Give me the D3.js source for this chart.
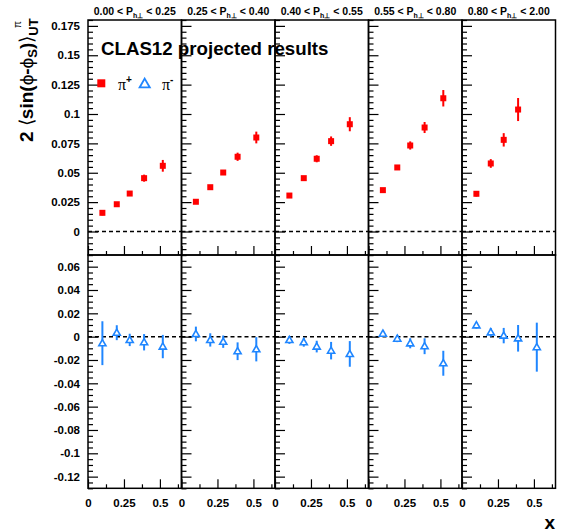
<!DOCTYPE html>
<html><head><meta charset="utf-8">
<script src="https://cdn.jsdelivr.net/npm/d3@7"></script>
<style>
body{margin:0;background:#fff;}
svg text{font-family:"Liberation Sans",Arial,Helvetica,sans-serif;font-weight:bold;fill:#000;}
</style></head><body><svg id="c" width="566" height="532"></svg>
<script>
// ---------- data ----------
const binLo = ["0.00","0.25","0.40","0.55","0.80"];
const binHi = ["0.25","0.40","0.55","0.80","2.00"];
const xBins = [0.10, 0.20, 0.29, 0.39, 0.52];

const piPlusVal = [
  [0.0159, 0.0232, 0.0323, 0.0454, 0.0559],
  [0.0253, 0.0377, 0.0502, 0.0636, 0.0800],
  [0.0306, 0.0454, 0.0619, 0.0769, 0.0913],
  [0.0352, 0.0545, 0.0732, 0.0885, 0.1134],
  [0.0321, 0.0579, 0.0780, 0.1038]
];
const piPlusErr = [
  [0.0022, 0.0015, 0.0018, 0.0030, 0.0050],
  [0.0015, 0.0017, 0.0020, 0.0035, 0.0050],
  [0.0015, 0.0018, 0.0030, 0.0040, 0.0060],
  [0.0012, 0.0018, 0.0035, 0.0047, 0.0070],
  [0.0023, 0.0037, 0.0057, 0.0098]
];
const piMinusVal = [
  [-0.0056, 0.0034, -0.0028, -0.0048, -0.0085],
  [0.0023, -0.0028, -0.0043, -0.0125, -0.0108],
  [-0.0028, -0.0048, -0.0085, -0.0120, -0.0148],
  [0.0026, -0.0017, -0.0057, -0.0082, -0.0228],
  [0.0097, 0.0037, 0.0009, -0.0014, -0.0090]
];
const piMinusErr = [
  [0.0188, 0.0064, 0.0053, 0.0070, 0.0100],
  [0.0063, 0.0057, 0.0053, 0.0076, 0.0104],
  [0.0034, 0.0038, 0.0050, 0.0075, 0.0110],
  [0.0025, 0.0030, 0.0043, 0.0068, 0.0107],
  [0.0028, 0.0037, 0.0066, 0.0114, 0.0210]
];

const xTicksMajor = [0, 0.25, 0.5];
const xTickLabels = ["0", "0.25", "0.5"];
const xTicksMinor = [0.125, 0.375, 0.625];
const yTopMajor = [0, 0.025, 0.05, 0.075, 0.1, 0.125, 0.15, 0.175];
const yTopLabels = ["0", "0.025", "0.05", "0.075", "0.1", "0.125", "0.15", "0.175"];
const yBotMajor = [-0.12, -0.1, -0.08, -0.06, -0.04, -0.02, 0, 0.02, 0.04, 0.06];
const yBotLabels = ["-0.12", "-0.1", "-0.08", "-0.06", "-0.04", "-0.02", "0", "0.02", "0.04", "0.06"];

// ---------- layout ----------
const RED = "#ff0000", BLUE = "#1f86ff";
const svg = d3.select("#c");
svg.append("rect").attr("width", 566).attr("height", 532).attr("fill", "#fff");

const panel = d3.scaleBand().domain(d3.range(5)).range([88, 555.5]).paddingInner(0).paddingOuter(0);
const pw = panel.bandwidth();
const x = d3.scaleLinear().domain([0, 0.65]).range([0, pw]);
const yTop = d3.scaleLinear().domain([-0.02, 0.18]).range([255, 20]);
const yBot = d3.scaleLinear().domain([-0.13, 0.07]).range([488.3, 255]);

const yTopMinor = d3.range(-0.02, 0.1801, 0.005).filter(v => !yTopMajor.some(m => Math.abs(m - v) < 1e-6));
const yBotMinor = d3.range(-0.13, 0.0701, 0.005).filter(v => !yBotMajor.some(m => Math.abs(m - v) < 1e-6));

function cleanAxis(g) { g.select(".domain").remove(); g.selectAll(".tick line").attr("stroke", "#000").attr("stroke-width", 1.2); }

function drawPanel(i, y, major, minor, yLabels, vals, errs, kind) {
  const g = svg.append("g").attr("transform", `translate(${panel(i)},0)`);
  const [ylo, yhi] = y.range();
  // zero dashed line
  g.append("line").attr("x1", 0).attr("x2", pw).attr("y1", y(0)).attr("y2", y(0))
    .attr("stroke", "#000").attr("stroke-width", 1.5).attr("stroke-dasharray", "4,3");
  // y ticks
  g.append("g").call(d3.axisRight(y).tickValues(major).tickSize(10).tickFormat("")).call(cleanAxis);
  g.append("g").call(d3.axisRight(y).tickValues(minor).tickSize(5).tickFormat("")).call(cleanAxis);
  // x ticks
  g.append("g").attr("transform", `translate(0,${ylo})`).call(d3.axisTop(x).tickValues(xTicksMajor).tickSize(9).tickFormat("")).call(cleanAxis);
  g.append("g").attr("transform", `translate(0,${ylo})`).call(d3.axisTop(x).tickValues(xTicksMinor).tickSize(4).tickFormat("")).call(cleanAxis);
  // frame
  g.append("rect").attr("x", 0).attr("y", yhi).attr("width", pw).attr("height", ylo - yhi)
    .attr("fill", "none").attr("stroke", "#000").attr("stroke-width", 1.5);
  if (i === 0) {
    const ax = svg.append("g").attr("transform", `translate(88,0)`)
      .call(d3.axisLeft(y).tickValues(major).tickSize(0).tickPadding(8).tickFormat((d, k) => yLabels[k]));
    ax.select(".domain").remove();
    ax.selectAll("text").style("font-size", "11.5px").style("font-family", '"Liberation Sans",Arial,sans-serif').style("font-weight", "bold").attr("fill", "#000");
  }
  // data
  const pts = vals.map((v, k) => ({ x: xBins[k], v, e: errs[k] }));
  const color = kind === "plus" ? RED : BLUE;
  g.selectAll(null).data(pts).enter().append("line")
    .attr("x1", d => x(d.x)).attr("x2", d => x(d.x))
    .attr("y1", d => y(d.v - d.e)).attr("y2", d => y(d.v + d.e))
    .attr("stroke", color).attr("stroke-width", 2);
  if (kind === "plus") {
    g.selectAll(null).data(pts).enter().append("rect")
      .attr("x", d => x(d.x) - 3).attr("y", d => y(d.v) - 3).attr("width", 6).attr("height", 6).attr("fill", RED);
  } else {
    const tri = d3.symbol().type(d3.symbolTriangle).size(22);
    g.selectAll(null).data(pts).enter().append("path")
      .attr("d", tri).attr("transform", d => `translate(${x(d.x)},${y(d.v) + 0.5})`)
      .attr("fill", "#fff").attr("stroke", BLUE).attr("stroke-width", 1.6);
  }
}

for (let i = 0; i < 5; i++) {
  drawPanel(i, yTop, yTopMajor, yTopMinor, yTopLabels, piPlusVal[i], piPlusErr[i], "plus");
  drawPanel(i, yBot, yBotMajor, yBotMinor, yBotLabels, piMinusVal[i], piMinusErr[i], "minus");
  // x tick labels
  const ax = svg.append("g").attr("transform", `translate(${panel(i)},488.3)`)
    .call(d3.axisBottom(x).tickValues(xTicksMajor).tickSize(0).tickPadding(11).tickFormat((d, k) => xTickLabels[k]));
  ax.select(".domain").remove();
  ax.selectAll("text").style("font-size", "11.5px").style("font-family", '"Liberation Sans",Arial,sans-serif').style("font-weight", "bold").attr("fill", "#000");
  // header
  const h = svg.append("text").attr("x", panel(i) + pw / 2).attr("y", 15).attr("text-anchor", "middle").style("font-size", "10.5px");
  h.append("tspan").text(`${binLo[i]} < P`);
  h.append("tspan").attr("dy", 3).style("font-size", "7px").text("h⊥");
  h.append("tspan").attr("dy", -3).text(` < ${binHi[i]}`);
}

// title text
svg.append("text").attr("x", 101).attr("y", 55).style("font-size", "18.7px").text("CLAS12 projected results");

// legend
svg.append("rect").attr("x", 97.3).attr("y", 79.3).attr("width", 8).attr("height", 8).attr("fill", RED);
const l1 = svg.append("text").attr("x", 118).attr("y", 90).style("font-family", '"Liberation Serif","Times New Roman",serif').style("font-weight", "normal").style("font-size", "16px");
l1.append("tspan").text("π");
l1.append("tspan").attr("dy", -7).style("font-size", "10px").style("font-weight", "bold").style("font-family", '"Liberation Sans",Arial,sans-serif').text("+");
svg.append("path").attr("d", d3.symbol().type(d3.symbolTriangle).size(45)).attr("transform", "translate(144.7,84.5)")
  .attr("fill", "#fff").attr("stroke", BLUE).attr("stroke-width", 1.8);
const l2 = svg.append("text").attr("x", 162).attr("y", 90).style("font-family", '"Liberation Serif","Times New Roman",serif').style("font-weight", "normal").style("font-size", "16px");
l2.append("tspan").text("π");
l2.append("tspan").attr("dy", -7).style("font-size", "10px").style("font-weight", "bold").style("font-family", '"Liberation Sans",Arial,sans-serif').text("-");

// y-axis title
const yt = svg.append("text").attr("transform", "translate(32.5,142) rotate(-90)").style("font-size", "19px");
yt.append("tspan").text("2 ");
yt.append("tspan").style("font-weight", "normal").text("⟨");
yt.append("tspan").text("sin(");
yt.append("tspan").style("font-weight", "normal").text("ϕ");
yt.append("tspan").text("-");
yt.append("tspan").style("font-weight", "normal").text("ϕ");
yt.append("tspan").attr("dy", 4).style("font-size", "13px").text("S");
yt.append("tspan").attr("dy", -4).text(")");
yt.append("tspan").style("font-weight", "normal").text("⟩");
yt.append("tspan").attr("dy", 5).style("font-size", "13px").text("UT");
svg.append("text").attr("transform", "translate(21,28) rotate(-90)").style("font-size", "10px").style("font-weight", "normal").text("π");

// x-axis title
svg.append("text").attr("x", 555).attr("y", 529).attr("text-anchor", "end").style("font-size", "19px").text("x");
</script></body></html>
